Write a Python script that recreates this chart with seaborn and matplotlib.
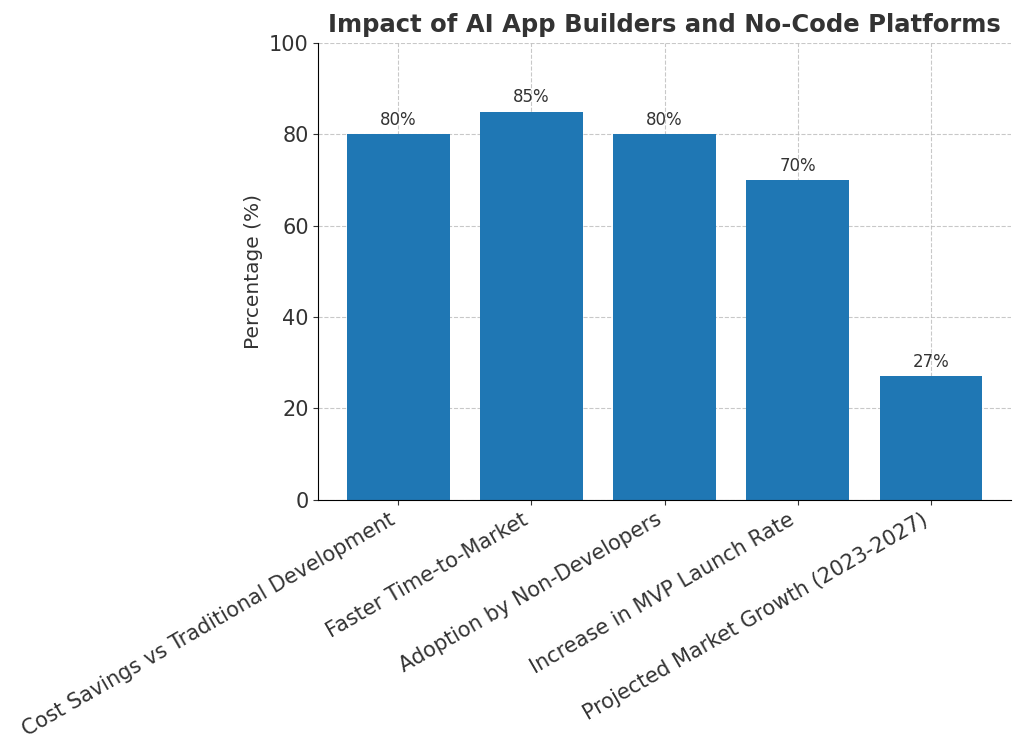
import matplotlib
matplotlib.use("Agg")
import matplotlib.pyplot as plt
import seaborn as sns
import pandas as pd

categories = ["Cost Savings vs Traditional Development", "Faster Time-to-Market",
              "Adoption by Non-Developers", "Increase in MVP Launch Rate",
              "Projected Market Growth (2023-2027)"]
values = [80, 85, 80, 70, 27]

df = pd.DataFrame({"cat": categories, "val": values})

fig = plt.figure(figsize=(10.24, 7.56), dpi=100)
ax = fig.add_axes([0.311, 0.339, 0.676, 0.604])
sns.barplot(data=df, x="cat", y="val", color="#1f77b4", saturation=1, width=0.77, ax=ax)
for i, v in enumerate(values):
    ax.text(i, v + 1.2, f"{v}%", ha="center", va="bottom", fontsize=12, color="#333333")
ax.set_ylim(0, 100)
ax.set_xlim(-0.6, 4.6)
ax.set_xlabel("")
ax.set_ylabel("Percentage (%)", fontsize=14.5, color="#333333")
ax.set_title("Impact of AI App Builders and No-Code Platforms", fontsize=17.5,
             fontweight="bold", color="#333333", pad=8)
ax.grid(True, linestyle="--", alpha=0.8, color="#bbbbbb")
ax.set_axisbelow(True)
ax.tick_params(axis="y", labelsize=15, colors="#333333")
ax.tick_params(axis="x", labelsize=15, colors="#333333")
plt.setp(ax.get_xticklabels(), rotation=30, ha="right")
for s in ["top", "right"]:
    ax.spines[s].set_visible(False)
fig.savefig("out.png", dpi=100)
